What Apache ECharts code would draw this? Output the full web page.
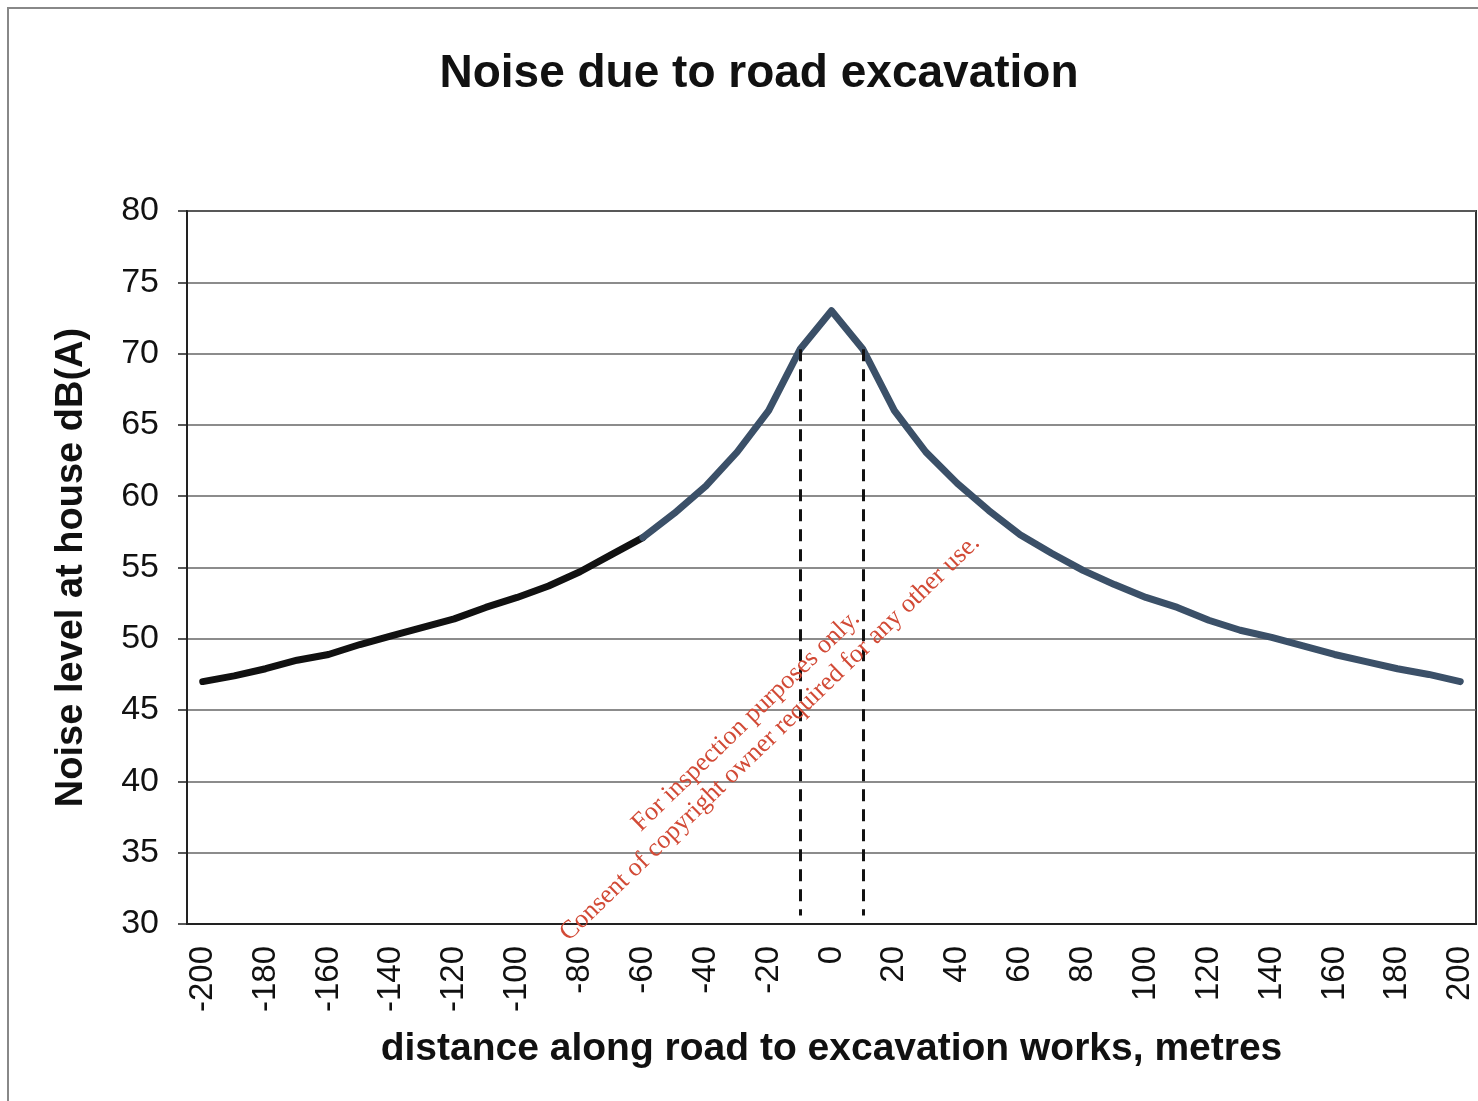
<!DOCTYPE html>
<html>
<head>
<meta charset="utf-8">
<title>Noise due to road excavation</title>
<script src="https://cdn.jsdelivr.net/npm/echarts@6/dist/echarts.min.js"></script>
<style>
  html, body { margin: 0; padding: 0; background: #fff; }
  #chart { width: 1478px; height: 1101px; }
</style>
</head>
<body>
<div id="chart"></div>
<script>
// distance along road, metres (every 10 m)
var distances = [
  '-200', '-190', '-180', '-170', '-160', '-150', '-140', '-130', '-120', '-110',
  '-100', '-90', '-80', '-70', '-60', '-50', '-40', '-30', '-20', '-10',
  '0', '10', '20', '30', '40', '50', '60', '70', '80', '90',
  '100', '110', '120', '130', '140', '150', '160', '170', '180', '190', '200'
];

// noise level at house, dB(A)
var noiseLevels = [
  47.0, 47.4, 47.9, 48.5, 48.9, 49.6, 50.2, 50.8, 51.4, 52.2,
  52.9, 53.7, 54.7, 55.9, 57.1, 58.8, 60.7, 63.1, 66.0, 70.3,
  73.0, 70.3, 66.0, 63.1, 60.9, 59.0, 57.3, 56.0, 54.8, 53.8,
  52.9, 52.2, 51.3, 50.6, 50.1, 49.5, 48.9, 48.4, 47.9, 47.5, 47.0
];

// the curve is drawn black up to -60 m, slate after that
var splitAt = '-60';

// dashed markers at -10 m and +10 m
var markerDistances = ['-10', '10'];
var markerTop = 70.3;
var markerBottom = 30.6;

var yMin = 30, yMax = 80, yStep = 5;

var splitIndex = distances.indexOf(splitAt);
var leftPart = noiseLevels.map(function (v, i) { return i <= splitIndex ? v : null; });
var rightPart = noiseLevels.map(function (v, i) { return i >= splitIndex ? v : null; });

var markLines = markerDistances.map(function (d) {
  return [{ coord: [d, markerTop] }, { coord: [d, markerBottom] }];
});

var fontFamily = '"Liberation Sans", Arial, sans-serif';
var stampFont = '26px "Liberation Serif", "Times New Roman", serif';

var chart = echarts.init(document.getElementById('chart'));

var option = {
  backgroundColor: '#fff',
  animation: false,
  title: {
    text: 'Noise due to road excavation',
    left: 754,
    top: 46,
    textAlign: 'center',
    textStyle: {
      fontFamily: fontFamily,
      fontSize: 46,
      fontWeight: 'bold',
      color: '#111'
    }
  },
  grid: {
    left: 187,
    right: 2,
    top: 211,
    bottom: 177,
    show: true,
    borderColor: '#333',
    borderWidth: 2
  },
  xAxis: {
    type: 'category',
    data: distances,
    boundaryGap: true,
    name: 'distance along road to excavation works, metres',
    nameLocation: 'middle',
    nameGap: 106,
    nameTextStyle: {
      fontFamily: fontFamily,
      fontSize: 39,
      fontWeight: 'bold',
      color: '#111'
    },
    axisLine: { lineStyle: { color: '#222', width: 2 } },
    axisTick: { interval: 0, length: 9, lineStyle: { color: '#222', width: 1.5 } },
    axisLabel: {
      interval: 1,
      rotate: 90,
      margin: 22,
      fontFamily: fontFamily,
      fontSize: 33,
      color: '#111'
    },
    splitLine: { show: false }
  },
  yAxis: {
    type: 'value',
    min: yMin,
    max: yMax,
    interval: yStep,
    name: 'Noise level at house dB(A)',
    nameLocation: 'middle',
    nameGap: 96,
    nameTextStyle: {
      fontFamily: fontFamily,
      fontSize: 38,
      fontWeight: 'bold',
      color: '#111'
    },
    axisLine: { show: true, lineStyle: { color: '#222', width: 2 } },
    axisTick: { show: true, length: 9, lineStyle: { color: '#222', width: 1.5 } },
    axisLabel: {
      margin: 28,
      fontFamily: fontFamily,
      fontSize: 34,
      color: '#111'
    },
    splitLine: { lineStyle: { color: '#666', width: 1.5 } }
  },
  series: [
    {
      type: 'line',
      data: leftPart,
      showSymbol: false,
      connectNulls: false,
      lineStyle: { color: '#111', width: 7, cap: 'round', join: 'round' },
      z: 3
    },
    {
      type: 'line',
      data: rightPart,
      showSymbol: false,
      connectNulls: false,
      lineStyle: { color: '#3b5068', width: 7, cap: 'round', join: 'round' },
      z: 3,
      markLine: {
        silent: true,
        symbol: 'none',
        label: { show: false },
        lineStyle: { color: '#111', width: 3, type: [12, 8] },
        data: markLines
      }
    }
  ],
  graphic: [
    {
      type: 'polyline',
      shape: { points: [[8, 1101], [8, 8], [1478, 8]] },
      style: { stroke: '#888', lineWidth: 2, fill: null },
      silent: true
    },
    {
      type: 'text',
      x: 746,
      y: 721,
      rotation: 44 * Math.PI / 180,
      style: {
        text: 'For inspection purposes only.',
        font: stampFont,
        fill: '#d24a36',
        align: 'center',
        verticalAlign: 'middle'
      },
      z: 10
    },
    {
      type: 'text',
      x: 770,
      y: 738,
      rotation: 44 * Math.PI / 180,
      style: {
        text: 'Consent of copyright owner required for any other use.',
        font: stampFont,
        fill: '#d24a36',
        align: 'center',
        verticalAlign: 'middle'
      },
      z: 10
    }
  ]
};

chart.setOption(option);
</script>
</body>
</html>
